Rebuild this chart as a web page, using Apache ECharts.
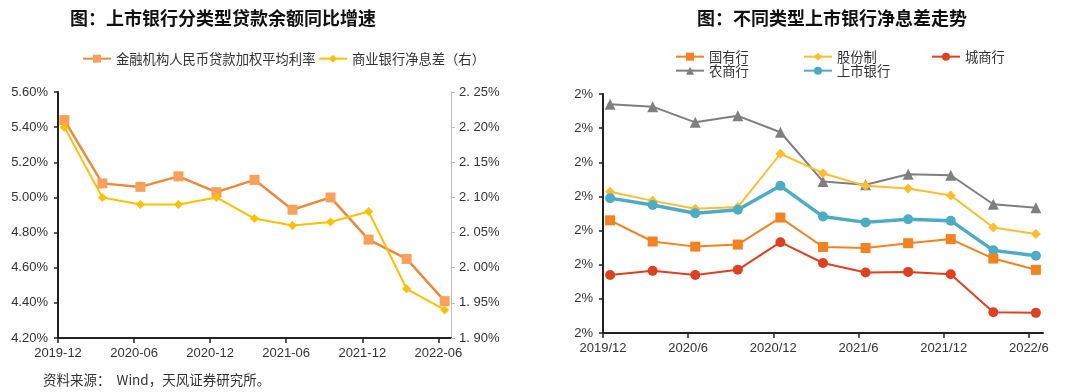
<!DOCTYPE html>
<html>
<head>
<meta charset="utf-8">
<script src="https://cdn.jsdelivr.net/npm/echarts@6/dist/echarts.min.js"></script>
<style>
html,body{margin:0;padding:0;background:#fff;}
#c{width:1080px;height:392px;}
</style>
</head>
<body>
<div id="c"></div>
<script>
// ---------- data ----------
const quarters = ['2019-12','2020-03','2020-06','2020-09','2020-12','2021-03','2021-06','2021-09','2021-12','2022-03','2022-06'];
const loanRate = [5.44, 5.08, 5.06, 5.12, 5.03, 5.10, 4.93, 5.00, 4.76, 4.65, 4.41];
const bankNIM  = [2.20, 2.10, 2.09, 2.09, 2.10, 2.07, 2.06, 2.065, 2.08, 1.97, 1.94];
const leftTickLabels  = ['2019-12','2020-06','2020-12','2021-06','2021-12','2022-06'];
const rightTickLabels = ['2019/12','2020/6','2020/12','2021/6','2021/12','2022/6'];
const stateOwned = [2.030, 1.968, 1.953, 1.959, 2.038, 1.952, 1.949, 1.963, 1.975, 1.918, 1.885];
const jointStock = [2.114, 2.087, 2.064, 2.069, 2.225, 2.168, 2.131, 2.123, 2.103, 2.009, 1.990];
const cityBanks  = [1.870, 1.882, 1.870, 1.885, 1.966, 1.905, 1.877, 1.879, 1.872, 1.761, 1.759];
const ruralBanks = [2.370, 2.363, 2.317, 2.336, 2.288, 2.144, 2.134, 2.165, 2.162, 2.077, 2.067];
const listedBanks= [2.095, 2.075, 2.051, 2.061, 2.131, 2.041, 2.024, 2.033, 2.029, 1.942, 1.926];

// ---------- helpers ----------
function monthIndex(s){ const p = s.split(/[-\/]/); return (+p[0]-2019)*12 + (+p[1]) - 12; }
const xPos = quarters.map(q => monthIndex(q) + 0.5);
const pairs = arr => arr.map((v,i)=>[xPos[i], v]);
const leftTicks = leftTickLabels.map(monthIndex);
const rightTicks = rightTickLabels.map(monthIndex);
const leftLabelMap = {}; leftTickLabels.forEach(l=>leftLabelMap[monthIndex(l)]=l);
const rightLabelMap = {}; rightTickLabels.forEach(l=>rightLabelMap[monthIndex(l)]=l);

const NUM = 'Liberation Sans, Arial, Noto Sans CJK SC, sans-serif';
const CJK = 'Noto Sans CJK SC, sans-serif';
const txt = '#333';

function xAxis(gridIndex, ticks, map){
  return {
    type:'value', gridIndex, min:0, max:31,
    axisLine:{show:true, onZero:false, lineStyle:{color:'#222', width:2}},
    axisTick:{show:true, length:5, customValues:ticks, lineStyle:{color:'#222', width:1.5}},
    axisLabel:{customValues:ticks, formatter:v=>map[v]||'', color:txt, fontSize:13, fontFamily:NUM, margin:9},
    splitLine:{show:false}
  };
}

const chart = echarts.init(document.getElementById('c'));
chart.setOption({
  animation:false,
  backgroundColor:'#fff',
  title:[
    {text:'图：上市银行分类型贷款余额同比增速', left:65, top:4, textStyle:{fontFamily:CJK, fontSize:18, fontWeight:'bold', color:'#111'}},
    {text:'图：不同类型上市银行净息差走势', left:692, top:4, textStyle:{fontFamily:CJK, fontSize:18, fontWeight:'bold', color:'#111'}}
  ],
  legend:[
    {data:['金融机构人民币贷款加权平均利率'], left:82, top:52},
    {data:['商业银行净息差（右）'], left:318, top:52},
    {data:['国有行'], left:675, top:50},
    {data:['股份制'], left:803, top:50},
    {data:['城商行'], left:931, top:50},
    {data:['农商行'], left:675, top:64},
    {data:['上市银行'], left:803, top:64}
  ].map(l=>Object.assign(l,{itemWidth:28, itemHeight:10, itemGap:4, textStyle:{fontFamily:CJK, fontSize:13.3, color:txt}, padding:0})),
  grid:[
    {left:58, top:92, width:393, height:246},
    {left:603, top:94, width:440, height:239}
  ],
  xAxis:[ xAxis(0, leftTicks, leftLabelMap), xAxis(1, rightTicks, rightLabelMap) ],
  yAxis:[
    {type:'value', gridIndex:0, min:4.2, max:5.6, interval:0.2,
     axisLine:{show:true, lineStyle:{color:'#222', width:2}},
     axisTick:{show:true, length:4, lineStyle:{color:'#222', width:1.5}},
     axisLabel:{formatter:v=>v.toFixed(2)+'%', color:txt, fontSize:13, fontFamily:NUM, margin:10},
     splitLine:{show:false}},
    {type:'value', gridIndex:0, position:'right', min:1.9, max:2.25, interval:0.05,
     axisLine:{show:true, lineStyle:{color:'#bfbfbf', width:1}},
     axisTick:{show:true, length:4, lineStyle:{color:'#bfbfbf'}},
     axisLabel:{formatter:v=>v.toFixed(2).replace('.', '. ')+'%', color:txt, fontSize:13, fontFamily:NUM, margin:8},
     splitLine:{show:false}},
    {type:'value', gridIndex:1, min:1.7, max:2.4, interval:0.1,
     axisLine:{show:true, lineStyle:{color:'#222', width:2}},
     axisTick:{show:true, length:4, lineStyle:{color:'#222', width:1.5}},
     axisLabel:{formatter:v=>Math.round(v)+'%', color:txt, fontSize:13, fontFamily:NUM, margin:10},
     splitLine:{show:false}}
  ],
  series:[
    {name:'金融机构人民币贷款加权平均利率', type:'line', xAxisIndex:0, yAxisIndex:0, data:pairs(loanRate),
     symbol:'rect', symbolSize:10, lineStyle:{color:'#F0883A', width:2.5}, itemStyle:{color:'#F9A05A'}, z:3},
    {name:'商业银行净息差（右）', type:'line', xAxisIndex:0, yAxisIndex:1, data:pairs(bankNIM),
     symbol:'diamond', symbolSize:9, lineStyle:{color:'#FFC000', width:2}, itemStyle:{color:'#FFC000'}, z:4},
    {name:'农商行', type:'line', xAxisIndex:1, yAxisIndex:2, data:pairs(ruralBanks),
     symbol:'triangle', symbolSize:11, lineStyle:{color:'#7F7F7F', width:2}, itemStyle:{color:'#7F7F7F'}},
    {name:'股份制', type:'line', xAxisIndex:1, yAxisIndex:2, data:pairs(jointStock),
     symbol:'diamond', symbolSize:10, lineStyle:{color:'#FDBE2E', width:2}, itemStyle:{color:'#FDBE2E'}},
    {name:'上市银行', type:'line', xAxisIndex:1, yAxisIndex:2, data:pairs(listedBanks),
     symbol:'circle', symbolSize:10, lineStyle:{color:'#4BACC6', width:3.5}, itemStyle:{color:'#4BACC6'}},
    {name:'国有行', type:'line', xAxisIndex:1, yAxisIndex:2, data:pairs(stateOwned),
     symbol:'rect', symbolSize:10, lineStyle:{color:'#F58220', width:2}, itemStyle:{color:'#F58220'}},
    {name:'城商行', type:'line', xAxisIndex:1, yAxisIndex:2, data:pairs(cityBanks),
     symbol:'circle', symbolSize:10, lineStyle:{color:'#E0401E', width:2}, itemStyle:{color:'#E0401E'}}
  ],
  graphic:[
    {type:'text', left:43, top:373, style:{text:'资料来源：  Wind，天风证券研究所。', font:'13.5px Noto Sans CJK SC', fill:txt}}
  ]
});
</script>
</body>
</html>
